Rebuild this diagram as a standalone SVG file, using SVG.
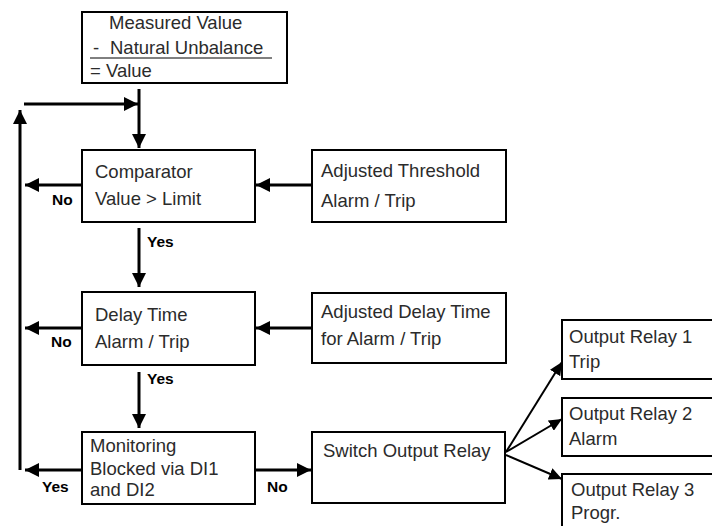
<svg xmlns="http://www.w3.org/2000/svg" width="712" height="526" viewBox="0 0 712 526">
<style>
.box{fill:#fff;stroke:#000;stroke-width:2}
.t{font-family:"Liberation Sans",Arial,Helvetica,sans-serif;font-size:18.5px;fill:#2b2b2b}
.lbl{font-family:"Liberation Sans",Arial,Helvetica,sans-serif;font-size:15.5px;font-weight:bold;fill:#000}
.c{fill:none;stroke:#000;stroke-width:3}
.f{fill:none;stroke:#000;stroke-width:2}
</style>
<defs>
<marker id="ah" markerUnits="userSpaceOnUse" markerWidth="15" markerHeight="14" refX="14" refY="7" orient="auto">
<path d="M0,0 L14,7 L0,14 z" fill="#000"/>
</marker>
<marker id="ahs" markerUnits="userSpaceOnUse" markerWidth="14" markerHeight="12" refX="13" refY="6" orient="auto">
<path d="M0,0 L13,6 L0,12 z" fill="#000"/>
</marker>
</defs>
<rect width="712" height="526" fill="#fff"/>
<g id="connectors">
<line class="c" x1="139" y1="89" x2="139" y2="148" marker-end="url(#ah)"/>
<line class="c" x1="20" y1="470" x2="20" y2="110" marker-end="url(#ah)"/>
<line class="c" x1="24" y1="104" x2="138" y2="104" marker-end="url(#ah)"/>
<line class="c" x1="82" y1="185" x2="25" y2="185" marker-end="url(#ah)"/>
<line class="c" x1="312" y1="185" x2="256" y2="185" marker-end="url(#ah)"/>
<line class="c" x1="139" y1="228" x2="139" y2="287" marker-end="url(#ah)"/>
<line class="c" x1="82" y1="328" x2="25" y2="328" marker-end="url(#ah)"/>
<line class="c" x1="312" y1="328" x2="256" y2="328" marker-end="url(#ah)"/>
<line class="c" x1="139" y1="372" x2="139" y2="428" marker-end="url(#ah)"/>
<line class="c" x1="82" y1="470" x2="25" y2="470" marker-end="url(#ah)"/>
<line class="c" x1="255" y1="470" x2="311" y2="470" marker-end="url(#ah)"/>
<line class="f" x1="506" y1="452" x2="562" y2="362" marker-end="url(#ahs)"/>
<line class="f" x1="506" y1="452" x2="562" y2="419" marker-end="url(#ahs)"/>
<line class="f" x1="506" y1="455" x2="562" y2="479" marker-end="url(#ahs)"/>
<text class="lbl" x="52" y="205">No</text>
<text class="lbl" x="147" y="247">Yes</text>
<text class="lbl" x="51" y="347">No</text>
<text class="lbl" x="147" y="384">Yes</text>
<text class="lbl" x="42" y="492">Yes</text>
<text class="lbl" x="267" y="492">No</text>
</g>
<g id="value">
<rect class="box" x="82" y="12" width="205" height="71"/>
<line x1="90" y1="58" x2="272" y2="58" stroke="#000" stroke-width="1"/>
<text class="t" x="109" y="29">Measured Value</text>
<text class="t" y="54"><tspan x="93">-</tspan><tspan x="110">Natural Unbalance</tspan></text>
<text class="t" x="90" y="77">= Value</text>
</g>
<g id="comparator">
<rect class="box" x="82" y="150" width="173" height="72"/>
<text class="t" x="95" y="178">Comparator</text>
<text class="t" x="95" y="205">Value &gt; Limit</text>
</g>
<g id="threshold">
<rect class="box" x="312" y="150" width="194" height="72"/>
<text class="t" x="321" y="177">Adjusted Threshold</text>
<text class="t" x="321" y="207">Alarm / Trip</text>
</g>
<g id="delay">
<rect class="box" x="82" y="292" width="173" height="73"/>
<text class="t" x="95" y="321">Delay Time</text>
<text class="t" x="95" y="348">Alarm / Trip</text>
</g>
<g id="adjdelay">
<rect class="box" x="312" y="293" width="194" height="70"/>
<text class="t" x="321" y="318">Adjusted Delay Time</text>
<text class="t" x="321" y="345">for Alarm / Trip</text>
</g>
<g id="monitoring">
<rect class="box" x="82" y="432" width="173" height="72"/>
<text class="t" x="90" y="452">Monitoring</text>
<text class="t" x="90" y="475">Blocked via DI1</text>
<text class="t" x="90" y="496">and DI2</text>
</g>
<g id="switch">
<rect class="box" x="312" y="432" width="193" height="71"/>
<text class="t" x="323" y="457">Switch Output Relay</text>
</g>
<g id="relay1">
<rect class="box" x="562" y="320" width="160" height="59"/>
<text class="t" x="569" y="343">Output Relay 1</text>
<text class="t" x="569" y="368">Trip</text>
</g>
<g id="relay2">
<rect class="box" x="562" y="398" width="160" height="58"/>
<text class="t" x="569" y="420">Output Relay 2</text>
<text class="t" x="569" y="445">Alarm</text>
</g>
<g id="relay3">
<rect class="box" x="562" y="474" width="160" height="70"/>
<text class="t" x="571" y="496">Output Relay 3</text>
<text class="t" x="571" y="519">Progr.</text>
</g>
</svg>
